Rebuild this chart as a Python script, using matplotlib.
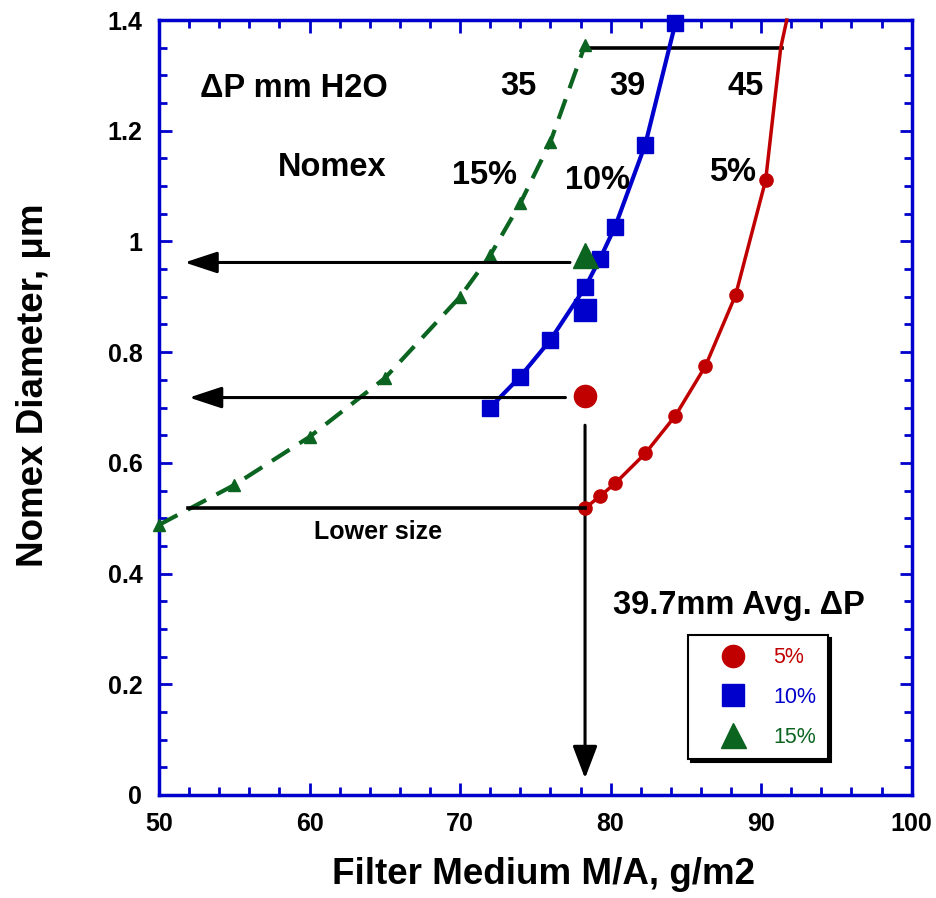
import matplotlib
matplotlib.use("Agg")
import matplotlib.pyplot as plt
from matplotlib.ticker import MultipleLocator, FormatStrFormatter

plt.rcParams["font.family"] = ["Liberation Sans", "DejaVu Sans"]
plt.rcParams["font.weight"] = "bold"

# ---------------- data ----------------
# 5 % curve (red circles)
red_x = [78.3, 79.3, 80.3, 82.3, 84.3, 86.3, 88.3, 90.3]
red_y = [0.518, 0.540, 0.563, 0.617, 0.685, 0.775, 0.903, 1.111]
red_fit_x = [78.3, 79.3, 80.3, 82.3, 84.3, 86.3, 88.3, 90.3, 90.9, 91.3, 91.7]
red_fit_y = [0.518, 0.540, 0.563, 0.617, 0.685, 0.775, 0.903, 1.111, 1.255, 1.35, 1.40]

# 10 % curve (blue squares)
blue_x = [72.0, 74.0, 76.0, 78.3, 79.3, 80.3, 82.3, 84.3]
blue_y = [0.700, 0.756, 0.822, 0.917, 0.969, 1.027, 1.175, 1.394]

# 15 % curve (green triangles, dashed)
green_x = [50.0, 55.0, 60.0, 65.0, 70.0, 72.0, 74.0, 76.0, 78.3]
green_y = [0.488, 0.560, 0.647, 0.753, 0.900, 0.975, 1.069, 1.180, 1.355]

# averaged points at 39.7 mm dP
avg_x = 78.3
avg_y = {"5%": 0.72, "10%": 0.877, "15%": 0.975}

RED = "#c00000"
BLUE = "#0000cc"
GREEN = "#0b6420"

fig = plt.figure(figsize=(9.37, 8.98), dpi=100)
ax = fig.add_axes([0.1697, 0.1147, 0.8033, 0.863])

# curves
ax.plot(red_fit_x, red_fit_y, color=RED, lw=2.5, clip_on=False, zorder=3)
ax.plot(red_x, red_y, "o", color=RED, ms=9.5, zorder=4)
ax.plot(blue_x, blue_y, "-s", color=BLUE, lw=3, ms=11.5, clip_on=False, zorder=3)
ax.plot(green_x, green_y, "--^", color=GREEN, lw=3, ms=8.5, dashes=(5, 2.8),
        clip_on=False, zorder=3)

# big averaged markers (used for the legend)
h5, = ax.plot([avg_x], [avg_y["5%"]], "o", color=RED, ms=16, zorder=5, label="5%")
h10, = ax.plot([avg_x], [avg_y["10%"]], "s", color=BLUE, ms=16, zorder=5, label="10%")
h15, = ax.plot([avg_x], [avg_y["15%"]], "^", color=GREEN, ms=18, zorder=5, label="15%")

# arrows and guide lines
arw = dict(arrowstyle="-|>,head_length=1.0,head_width=0.33", color="black",
           lw=2.2, shrinkA=0, shrinkB=0, mutation_scale=20)
ax.annotate("", xy=(51.7, 0.962), xytext=(77.3, 0.962), arrowprops=arw)
ax.annotate("", xy=(52.0, 0.718), xytext=(77.0, 0.718), arrowprops=arw)
arw_v = dict(arw, arrowstyle="-|>,head_length=1.0,head_width=0.38")
ax.annotate("", xy=(78.3, 0.030), xytext=(78.3, 0.668), arrowprops=arw_v)
ax.plot([51.9, 78.3], [0.518, 0.518], color="black", lw=2.6, zorder=6)
ax.plot([78.3, 91.4], [1.35, 1.35], color="black", lw=2.6, zorder=2)

# annotations
big = 23.5
ax.text(52.7, 1.277, "ΔP mm H2O", fontsize=big, ha="left", va="center")
ax.text(61.5, 1.133, "Nomex", fontsize=big, ha="center", va="center")
ax.text(73.9, 1.28, "35", fontsize=big, ha="center", va="center")
ax.text(81.1, 1.28, "39", fontsize=big, ha="center", va="center")
ax.text(89.0, 1.28, "45", fontsize=big, ha="center", va="center")
ax.text(71.6, 1.12, "15%", fontsize=big, ha="center", va="center")
ax.text(79.1, 1.111, "10%", fontsize=big, ha="center", va="center")
ax.text(88.1, 1.124, "5%", fontsize=big, ha="center", va="center")
ax.text(64.55, 0.476, "Lower size", fontsize=18, ha="center", va="center")
ax.text(88.5, 0.343, "39.7mm Avg. ΔP", fontsize=big, ha="center", va="center")

# legend
leg = ax.legend(handles=[h5, h10, h15], loc="lower left", bbox_to_anchor=(0.703, 0.046),
                prop={"weight": "normal", "size": 15.5},
                frameon=True, fancybox=False, edgecolor="black",
                shadow={"color": "black", "alpha": 1}, borderpad=0.55,
                handletextpad=0.3, labelspacing=0.87, handlelength=3.1,
                borderaxespad=0)
leg.get_frame().set_linewidth(1.5)
for txt, c in zip(leg.get_texts(), [RED, BLUE, GREEN]):
    txt.set_color(c)

# axes styling
ax.set_xlim(50, 100)
ax.set_ylim(0, 1.4)
ax.xaxis.set_major_locator(MultipleLocator(10))
ax.xaxis.set_minor_locator(MultipleLocator(2))
ax.yaxis.set_major_locator(MultipleLocator(0.2))
ax.yaxis.set_minor_locator(MultipleLocator(0.05))
ax.yaxis.set_major_formatter(FormatStrFormatter("%g"))
for s in ax.spines.values():
    s.set_color(BLUE)
    s.set_linewidth(2.5)
ax.tick_params(which="both", direction="in", top=True, right=True, color=BLUE,
               width=2, labelsize=18, pad=12)
ax.tick_params(which="major", length=9)
ax.tick_params(which="minor", length=6)

ax.set_xlabel("Filter Medium M/A, g/m2", fontsize=26.5, fontweight="bold")
ax.set_ylabel("Nomex Diameter, μm", fontsize=26.5, fontweight="bold")
ax.xaxis.set_label_coords(0.511, -0.08)
ax.yaxis.set_label_coords(-0.143, 0.529)

fig.savefig("out.png", dpi=100)
